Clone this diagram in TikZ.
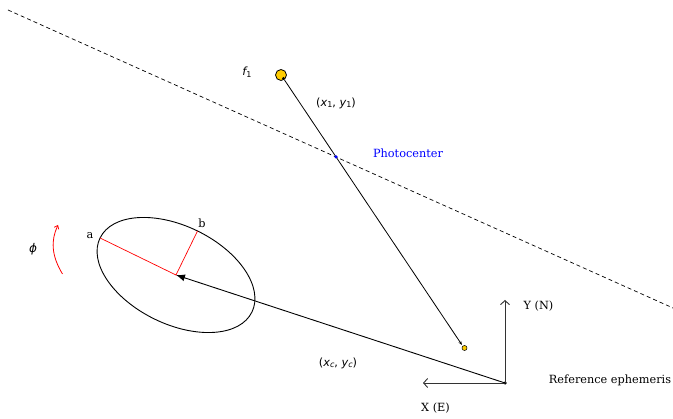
\documentclass[tikz,border=0pt]{standalone}
\usepackage{fontspec}
\setmainfont{DejaVu Serif}
\newfontfamily\mathlbl{DejaVu Sans}
\usetikzlibrary{arrows.meta}
\definecolor{starfill}{RGB}{255,204,0}
\newcommand{\subsz}{\fontsize{8}{9}\selectfont}
\tikzset{
  lbl/.style={font=\fontsize{11.3}{13}\selectfont, inner sep=0pt},
  mlbl/.style={font=\fontsize{11.3}{13}\selectfont\mathlbl\itshape, inner sep=0pt},
  axisarrow/.style={draw=black!80, line width=0.9pt, -{Straight Barb[length=4pt,width=9pt]}},
}
\begin{document}
\begin{tikzpicture}[x=1pt,y=-1pt]
\useasboundingbox (0,0) rectangle (673,419);
% dashed line
\coordinate (d1) at (8,10);
\coordinate (d2) at (673,308);
\draw[dashed, dash pattern=on 4pt off 3pt, line width=0.7pt] (d1) -- (d2);
% star path
\node[circle, draw=black, fill=starfill, minimum size=11pt, inner sep=0pt, line width=0.8pt] (f1) at (281,75) {};
\node[circle, draw=black, fill=starfill, minimum size=5pt, inner sep=0pt, line width=0.5pt] (s2) at (464.5,348) {};
\node[circle, fill=black, minimum size=3pt, inner sep=0pt] (p0) at (283.5,78.5) {};
\coordinate (p1) at (462,345);
\draw[line width=0.8pt, -{Stealth[length=4pt,width=3pt]}] (p0) -- (p1);
% photocenter
\node[circle, fill=blue, minimum size=3.5pt, inner sep=0pt] (pc) at (336,157) {};
\node[lbl, text=blue] (pctext) at (408,153) {Photocenter};
\node[mlbl] (f1text) at (247,72) {f\raisebox{-0.3ex}{\subsz\upshape 1}};
\node[mlbl] (x1text) at (336,103) {\upshape(\itshape x\raisebox{-0.3ex}{\subsz\upshape 1}\upshape, \itshape y\raisebox{-0.3ex}{\subsz\upshape 1}\upshape)};
% ellipse
\coordinate (c) at (176,275);
\draw[line width=0.9pt, shift={(c)}, rotate=-26] (0,0) ellipse [x radius=84.5pt, y radius=49pt];
\coordinate (ea) at (100.1,238);
\coordinate (eb) at (197.5,231);
\draw[red, line width=0.7pt] (ea) -- (c) -- (eb);
\node[lbl] (atext) at (90,236) {a};
\node[lbl] (btext) at (202,223) {b};
% phi arc
\coordinate (r1) at (62.5,274);
\coordinate (r2) at (58,225);
\draw[red, line width=0.8pt, -{Straight Barb[length=3pt,width=5pt]}] (r1) .. controls (51,255) and (51,240) .. (r2);
\node[mlbl] (phitext) at (33,249) {\fontsize{12}{13}\selectfont ϕ};
% reference point and axes
\node[circle, fill=black, minimum size=3.5pt, inner sep=0pt] (ref) at (505,383) {};
\coordinate (yend) at (505,300);
\coordinate (xend) at (423,383);
\draw[axisarrow] (ref.center) -- (yend);
\draw[axisarrow] (ref.center) -- (xend);
\draw[line width=0.9pt, -{Latex[length=9pt,width=7pt]}] (ref.center) -- (c);
\node[lbl] (ytext) at (538.5,306) {Y (N)};
\node[lbl] (xtext) at (435.5,408) {X (E)};
\node[lbl] (reftext) at (610,380) {Reference ephemeris};
\node[mlbl] (xctext) at (338,363) {\upshape(\itshape x\raisebox{-0.3ex}{\subsz c}\upshape, \itshape y\raisebox{-0.3ex}{\subsz c}\upshape)};
\end{tikzpicture}
\end{document}
